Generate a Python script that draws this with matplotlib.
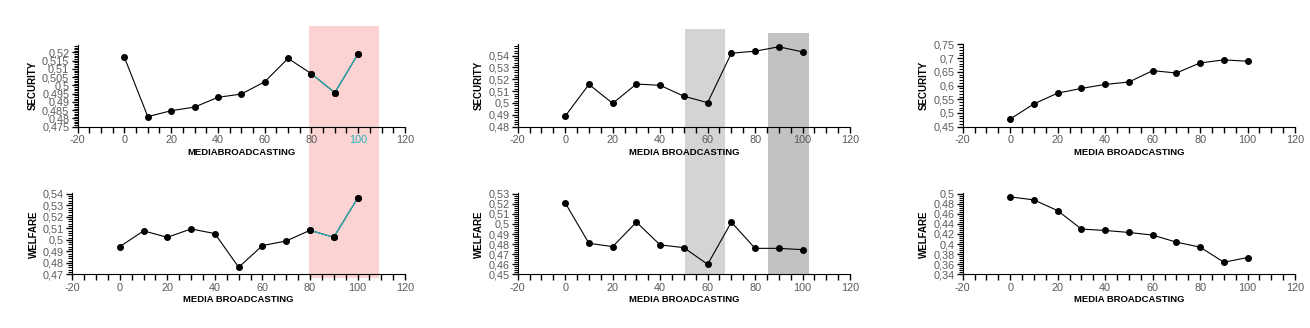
# Media broadcasting sweeps: security and welfare, three scenarios

import matplotlib
matplotlib.use("Agg")
import matplotlib.pyplot as plt
from matplotlib.ticker import MultipleLocator, AutoMinorLocator, FuncFormatter
from matplotlib.patches import Rectangle
from matplotlib.transforms import blended_transform_factory

broadcasting = [0, 10, 20, 30, 40, 50, 60, 70, 80, 90, 100]

security_a = [0.5170, 0.4811, 0.4847, 0.4869, 0.4928, 0.4948, 0.5022, 0.5164, 0.5071, 0.4956, 0.5192]
welfare_a = [0.4941, 0.5078, 0.5022, 0.5095, 0.5054, 0.4761, 0.4950, 0.4990, 0.5083, 0.5022, 0.5362]

security_b = [0.4889, 0.5157, 0.4997, 0.5160, 0.5149, 0.5057, 0.5003, 0.5420, 0.5437, 0.5474, 0.5431]
welfare_b = [0.5210, 0.4808, 0.4775, 0.5018, 0.4792, 0.4765, 0.4599, 0.5018, 0.4758, 0.4758, 0.4745]

security_c = [0.4781, 0.5333, 0.5725, 0.5896, 0.6043, 0.6129, 0.6545, 0.6459, 0.6826, 0.6937, 0.6888]
welfare_c = [0.4934, 0.4874, 0.4661, 0.4296, 0.4269, 0.4229, 0.4177, 0.4037, 0.3938, 0.3639, 0.3732]

# highlighted ranges of media broadcasting
pink_span = (79, 109)
light_span = (50.5, 67.3)
dark_span = (85.6, 102.7)

TEAL = "#2ab3b8"


def fmt(v, pos):
    return f"{v:g}".replace(".", ",")


def style_axis(ax, ylim, ystep, ylabel, xlabel):
    ax.set_facecolor("none")
    ax.spines["top"].set_visible(False)
    ax.spines["right"].set_visible(False)
    ax.set_xlim(-20, 120)
    ax.set_ylim(*ylim)
    ax.xaxis.set_major_locator(MultipleLocator(20))
    ax.xaxis.set_minor_locator(MultipleLocator(5))
    ax.yaxis.set_major_locator(MultipleLocator(ystep))
    ax.yaxis.set_minor_locator(AutoMinorLocator(5))
    ax.xaxis.set_major_formatter(FuncFormatter(fmt))
    ax.yaxis.set_major_formatter(FuncFormatter(fmt))
    ax.tick_params(which="major", direction="out", length=4, width=1,
                   labelsize=7.8, labelcolor="#5a5a5a", pad=2)
    ax.tick_params(which="minor", direction="out", length=3, width=0.8)
    ax.tick_params(axis="x", which="minor", length=4, width=1)
    ax.set_ylabel(ylabel, fontsize=7, fontweight="bold", labelpad=3)
    ax.set_xlabel(xlabel, fontsize=6.8, fontweight="bold", labelpad=2)


def draw_series(ax, xs, ys, teal_from=None):
    ax.plot(xs, ys, color="black", lw=0.8, marker="o", ms=4, zorder=3)
    if teal_from is not None:
        ax.plot(xs[teal_from:], ys[teal_from:], color=TEAL, lw=0.9, zorder=3.5)
        ax.plot(xs[teal_from:], ys[teal_from:], ls="none", color="black",
                marker="o", ms=4, zorder=4)


def add_span(fig, ax, span, y0, y1, color):
    trans = blended_transform_factory(ax.transData, fig.transFigure)
    fig.patches.append(Rectangle((span[0], y0), span[1] - span[0], y1 - y0,
                                 transform=trans, facecolor=color,
                                 edgecolor="none", zorder=-1))


def main():
    plt.rcParams["font.family"] = ["Liberation Sans", "DejaVu Sans"]
    fig = plt.figure(figsize=(13.1, 3.28), dpi=100)

    ax_ta = fig.add_axes([0.0593, 0.6137, 0.2498, 0.2490])
    ax_ba = fig.add_axes([0.0552, 0.1637, 0.2540, 0.2470])
    ax_tb = fig.add_axes([0.3952, 0.6137, 0.2537, 0.2512])
    ax_bb = fig.add_axes([0.3952, 0.1637, 0.2537, 0.2470])
    ax_tc = fig.add_axes([0.7349, 0.6137, 0.2537, 0.2512])
    ax_bc = fig.add_axes([0.7349, 0.1637, 0.2537, 0.2470])

    style_axis(ax_ta, (0.475, 0.5245), 0.005, "SECURITY", "MEDIABROADCASTING")
    style_axis(ax_ba, (0.47, 0.5405), 0.01, "WELFARE", "MEDIA BROADCASTING")
    style_axis(ax_tb, (0.48, 0.5495), 0.01, "SECURITY", "MEDIA BROADCASTING")
    style_axis(ax_bb, (0.45, 0.5305), 0.01, "WELFARE", "MEDIA BROADCASTING")
    style_axis(ax_tc, (0.45, 0.7505), 0.05, "SECURITY", "MEDIA BROADCASTING")
    style_axis(ax_bc, (0.34, 0.5005), 0.02, "WELFARE", "MEDIA BROADCASTING")

    draw_series(ax_ta, broadcasting, security_a, teal_from=8)
    draw_series(ax_ba, broadcasting, welfare_a, teal_from=8)
    draw_series(ax_tb, broadcasting, security_b)
    draw_series(ax_bb, broadcasting, welfare_b)
    draw_series(ax_tc, broadcasting, security_c)
    draw_series(ax_bc, broadcasting, welfare_c)

    # the "100" label in the first panel is highlighted
    fig.canvas.draw()
    for lab in ax_ta.get_xticklabels():
        if lab.get_text() == "100":
            lab.set_color(TEAL)

    add_span(fig, ax_ta, pink_span, 0.1534, 0.9216, "#fcd3d3")
    add_span(fig, ax_tb, light_span, 0.1616, 0.9107, "#d4d4d4")
    add_span(fig, ax_tb, dark_span, 0.1616, 0.8985, "#c2c2c2")

    fig.savefig("out.png", dpi=100)


if __name__ == "__main__":
    main()
